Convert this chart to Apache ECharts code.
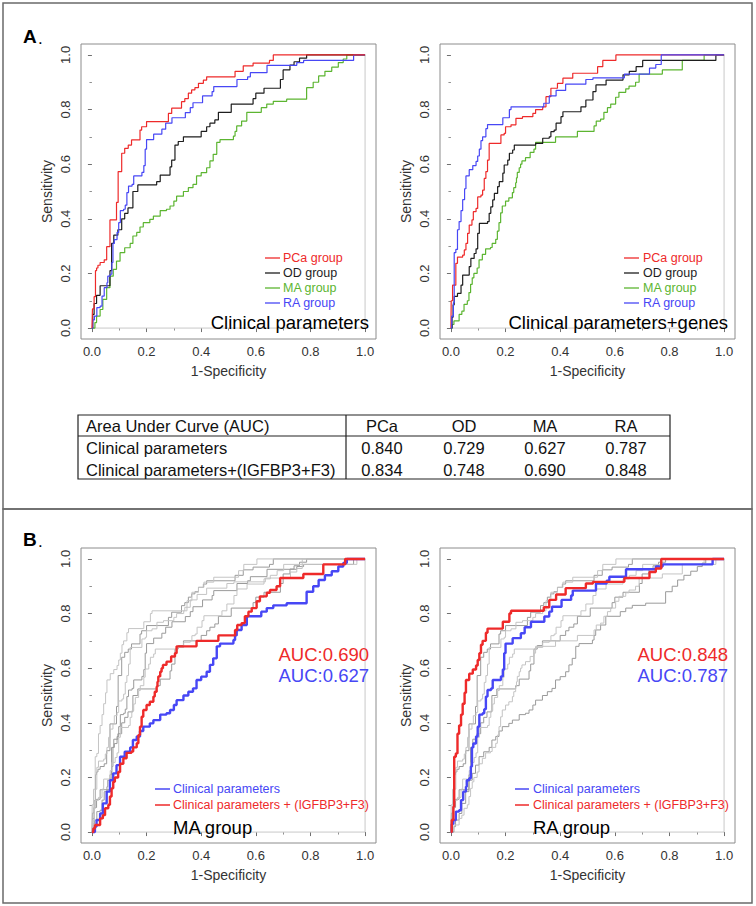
<!DOCTYPE html>
<html>
<head>
<meta charset="utf-8">
<script src="https://cdn.jsdelivr.net/npm/echarts@6/dist/echarts.min.js"></script>
<style>
html,body{margin:0;padding:0;background:#fff;}
#chart{width:756px;height:906px;}
</style>
</head>
<body>
<div id="chart"></div>
<script>
// ---------- DATA (ROC curves as [1-specificity, sensitivity] corner points) ----------
const pcaClin = [[0,0],[0.002,0.07],[0.008,0.115],[0.013,0.21],[0.017,0.22],[0.022,0.23],[0.03,0.24],[0.045,0.25],[0.054,0.298],[0.066,0.396],[0.09,0.46],[0.096,0.573],[0.109,0.64],[0.12,0.658],[0.133,0.67],[0.145,0.689],[0.176,0.725],[0.182,0.737],[0.2,0.756],[0.28,0.786],[0.292,0.805],[0.328,0.829],[0.34,0.84],[0.353,0.86],[0.365,0.872],[0.377,0.88],[0.39,0.896],[0.408,0.908],[0.42,0.92],[0.524,0.94],[0.554,0.96],[0.59,0.97],[0.65,0.98],[0.664,1],[1,1]];
const odClin = [[0,0],[0.003,0.05],[0.008,0.09],[0.017,0.12],[0.03,0.155],[0.066,0.21],[0.072,0.31],[0.08,0.34],[0.095,0.36],[0.109,0.4],[0.12,0.42],[0.132,0.44],[0.15,0.5],[0.168,0.524],[0.237,0.536],[0.25,0.56],[0.286,0.59],[0.292,0.615],[0.304,0.67],[0.316,0.683],[0.335,0.7],[0.4,0.72],[0.42,0.737],[0.432,0.75],[0.45,0.762],[0.463,0.79],[0.51,0.82],[0.59,0.84],[0.6,0.86],[0.63,0.878],[0.69,0.91],[0.7,0.945],[0.725,0.963],[0.74,0.975],[0.76,0.988],[0.786,1],[1,1]];
const maClin = [[0,0],[0.011,0.02],[0.017,0.044],[0.03,0.068],[0.04,0.105],[0.054,0.148],[0.066,0.19],[0.078,0.215],[0.09,0.245],[0.103,0.276],[0.12,0.294],[0.14,0.31],[0.15,0.337],[0.164,0.35],[0.176,0.37],[0.188,0.386],[0.212,0.398],[0.225,0.41],[0.25,0.43],[0.273,0.435],[0.286,0.447],[0.3,0.465],[0.31,0.483],[0.335,0.5],[0.353,0.514],[0.37,0.526],[0.383,0.557],[0.4,0.569],[0.42,0.587],[0.432,0.612],[0.444,0.636],[0.457,0.68],[0.469,0.69],[0.518,0.703],[0.524,0.72],[0.53,0.74],[0.548,0.758],[0.567,0.79],[0.62,0.807],[0.64,0.82],[0.664,0.83],[0.713,0.838],[0.786,0.88],[0.81,0.9],[0.83,0.923],[0.853,0.94],[0.878,0.955],[0.902,0.972],[0.92,0.985],[0.933,1],[1,1]];
const raClin = [[0,0],[0.003,0.03],[0.009,0.044],[0.018,0.075],[0.03,0.08],[0.037,0.117],[0.045,0.148],[0.055,0.166],[0.058,0.19],[0.067,0.197],[0.073,0.24],[0.077,0.31],[0.082,0.324],[0.092,0.35],[0.098,0.386],[0.104,0.43],[0.116,0.435],[0.122,0.45],[0.128,0.496],[0.134,0.52],[0.147,0.526],[0.153,0.557],[0.183,0.57],[0.19,0.595],[0.195,0.655],[0.2,0.69],[0.226,0.71],[0.256,0.728],[0.27,0.75],[0.293,0.77],[0.342,0.789],[0.36,0.807],[0.37,0.825],[0.405,0.85],[0.44,0.866],[0.446,0.884],[0.531,0.91],[0.57,0.92],[0.58,0.935],[0.641,0.962],[0.75,0.972],[0.775,0.98],[0.958,1],[1,1]];
const pcaGene = [[0,0],[0.001,0.1],[0.006,0.157],[0.018,0.237],[0.024,0.26],[0.043,0.267],[0.049,0.286],[0.055,0.31],[0.061,0.347],[0.067,0.377],[0.077,0.396],[0.082,0.426],[0.092,0.438],[0.098,0.48],[0.11,0.487],[0.116,0.505],[0.122,0.548],[0.128,0.573],[0.134,0.615],[0.14,0.676],[0.183,0.707],[0.195,0.713],[0.2,0.737],[0.22,0.744],[0.238,0.768],[0.262,0.774],[0.3,0.786],[0.31,0.8],[0.336,0.81],[0.348,0.847],[0.366,0.878],[0.39,0.896],[0.41,0.915],[0.446,0.933],[0.537,0.957],[0.556,0.98],[0.604,1],[1,1]];
const odGene = [[0,0],[0.004,0.04],[0.008,0.085],[0.012,0.116],[0.024,0.127],[0.037,0.157],[0.043,0.194],[0.067,0.225],[0.073,0.255],[0.085,0.273],[0.092,0.29],[0.098,0.347],[0.104,0.383],[0.134,0.39],[0.14,0.42],[0.146,0.444],[0.153,0.469],[0.159,0.493],[0.171,0.518],[0.177,0.536],[0.19,0.567],[0.195,0.597],[0.208,0.615],[0.214,0.64],[0.226,0.652],[0.232,0.67],[0.31,0.676],[0.336,0.695],[0.36,0.7],[0.366,0.719],[0.378,0.725],[0.385,0.75],[0.403,0.774],[0.41,0.792],[0.476,0.81],[0.494,0.835],[0.52,0.866],[0.531,0.89],[0.568,0.908],[0.63,0.927],[0.653,0.94],[0.678,0.957],[0.702,0.98],[0.97,1],[1,1]];
const maGene = [[0,0],[0.005,0.013],[0.011,0.026],[0.03,0.05],[0.04,0.062],[0.048,0.087],[0.06,0.1],[0.066,0.13],[0.072,0.16],[0.078,0.184],[0.084,0.2],[0.096,0.22],[0.103,0.25],[0.115,0.27],[0.127,0.29],[0.145,0.295],[0.151,0.31],[0.164,0.325],[0.17,0.355],[0.176,0.386],[0.182,0.422],[0.188,0.447],[0.2,0.465],[0.212,0.477],[0.225,0.496],[0.23,0.514],[0.237,0.532],[0.24,0.55],[0.243,0.57],[0.25,0.587],[0.255,0.6],[0.26,0.612],[0.273,0.624],[0.29,0.643],[0.304,0.655],[0.31,0.68],[0.383,0.7],[0.463,0.72],[0.524,0.74],[0.532,0.758],[0.548,0.765],[0.56,0.79],[0.573,0.807],[0.585,0.82],[0.603,0.845],[0.615,0.863],[0.64,0.876],[0.652,0.886],[0.676,0.9],[0.689,0.93],[0.774,0.945],[0.847,0.98],[0.927,1],[1,1]];
const raGene = [[0,0],[0.003,0.044],[0.009,0.093],[0.012,0.276],[0.018,0.288],[0.024,0.36],[0.03,0.39],[0.037,0.43],[0.043,0.47],[0.05,0.51],[0.055,0.557],[0.067,0.58],[0.08,0.595],[0.092,0.61],[0.098,0.63],[0.104,0.655],[0.11,0.686],[0.116,0.7],[0.128,0.73],[0.134,0.745],[0.19,0.77],[0.214,0.8],[0.22,0.81],[0.34,0.823],[0.36,0.85],[0.385,0.87],[0.42,0.893],[0.494,0.91],[0.52,0.916],[0.635,0.93],[0.727,0.952],[0.75,0.965],[0.77,1],[1,1]];
const diagonal = [[0,0],[1,1]];

const groupNames = ['PCa group','OD group','MA group','RA group'];
const tableHeader = ['Area Under Curve (AUC)','PCa','OD','MA','RA'];
const rowLabels = ['Clinical parameters','Clinical parameters+(IGFBP3+F3)'];
const aucClinical = ['0.840','0.729','0.627','0.787'];
const aucGenes = ['0.834','0.748','0.690','0.848'];
const tickValues = [0,0.2,0.4,0.6,0.8,1.0];
const minorTickValues = [0.1,0.3,0.5,0.7,0.9];

// ---------- STYLE ----------
const FONT = '"Liberation Sans", Arial, Helvetica, sans-serif';
const C_RED = '#ee2a2a', C_BLACK = '#1e1e1e', C_GREEN = '#5cb531', C_BLUE = '#4747f5';
const C_GRAY1 = '#9a9a9a', C_GRAY2 = '#c4c4c4';
const grids = [
  {left:81, top:44},
  {left:440, top:44},
  {left:81, top:548},
  {left:440, top:548}
];
const W = 295, H = 295;

const option = {
  animation:false,
  backgroundColor:'#ffffff',
  grid:[], xAxis:[], yAxis:[], series:[], graphic:[]
};

// main grids (0..3) with box, labels and major ticks
grids.forEach((g,i)=>{
  option.grid.push({left:g.left, top:g.top, width:W, height:H, show:true, borderColor:'#8c8c8c', borderWidth:1, backgroundColor:'rgba(0,0,0,0)'});
  const common = {gridIndex:i, type:'value', min:-0.04, max:1.04, splitLine:{show:false}, axisLine:{show:false}};
  option.xAxis.push(Object.assign({}, common, {
    position:'bottom',
    axisTick:{show:true, customValues:tickValues, length:4, lineStyle:{color:'#707070'}},
    axisLabel:{customValues:tickValues, formatter:v=>Number(v).toFixed(1), fontSize:13, color:'#333', fontFamily:FONT, margin:6},
    name:'1-Specificity', nameLocation:'middle', nameGap:25,
    nameTextStyle:{fontSize:14, color:'#333', fontFamily:FONT}
  }));
  option.yAxis.push(Object.assign({}, common, {
    position:'left',
    axisTick:{show:true, customValues:tickValues, length:4, lineStyle:{color:'#707070'}},
    axisLabel:{customValues:tickValues, formatter:v=>Number(v).toFixed(1), rotate:90, fontSize:13, color:'#333', fontFamily:FONT, margin:9},
    name:'Sensitivity', nameLocation:'middle', nameGap:27,
    nameTextStyle:{fontSize:14, color:'#333', fontFamily:FONT}
  }));
});
// overlay grids (4..7) carrying only the short minor ticks
grids.forEach((g,i)=>{
  option.grid.push({left:g.left, top:g.top, width:W, height:H, show:false});
  const common = {gridIndex:4+i, type:'value', min:-0.04, max:1.04, splitLine:{show:false}, axisLine:{show:false}, axisLabel:{show:false}};
  option.xAxis.push(Object.assign({}, common, {position:'bottom', axisTick:{show:true, customValues:minorTickValues, length:2.5, lineStyle:{color:'#909090'}}}));
  option.yAxis.push(Object.assign({}, common, {position:'left', axisTick:{show:true, customValues:minorTickValues, length:2.5, lineStyle:{color:'#909090'}}}));
});

function addLine(gi, data, color, width, z){
  option.series.push({
    type:'line', xAxisIndex:gi, yAxisIndex:gi, data:data, step:'end',
    symbol:'none', silent:true, z:z||2,
    lineStyle:{color:color, width:width}
  });
}
// diagonals
for (let i=0;i<4;i++) addLine(i, diagonal, '#c8c8c8', 1, 1);

// Panel A left: clinical parameters
addLine(0, maClin, C_GREEN, 1.2, 3);
addLine(0, odClin, C_BLACK, 1.2, 3);
addLine(0, raClin, C_BLUE, 1.2, 3);
addLine(0, pcaClin, C_RED, 1.2, 3);
// Panel A right: clinical parameters + genes
addLine(1, maGene, C_GREEN, 1.2, 3);
addLine(1, odGene, C_BLACK, 1.2, 3);
addLine(1, pcaGene, C_RED, 1.2, 3);
addLine(1, raGene, C_BLUE, 1.2, 3);
// Panel B left: MA group highlighted
[pcaClin, odClin, raClin].forEach(d=>addLine(2, d, C_GRAY1, 1, 2));
[pcaGene, odGene, raGene].forEach(d=>addLine(2, d, C_GRAY2, 1, 2));
addLine(2, maClin, C_BLUE, 2.4, 4);
addLine(2, maGene, C_RED, 2.4, 5);
// Panel B right: RA group highlighted
[pcaClin, odClin, maClin].forEach(d=>addLine(3, d, C_GRAY1, 1, 2));
[pcaGene, odGene, maGene].forEach(d=>addLine(3, d, C_GRAY2, 1, 2));
addLine(3, raClin, C_BLUE, 2.4, 4);
addLine(3, raGene, C_RED, 2.4, 5);

// ---------- GRAPHIC: frames, labels, legends, table ----------
const G = option.graphic;
function txt(x, y, text, size, color, align, weight){
  G.push({type:'text', x:x, y:y, silent:true, z:10, style:{text:text, fill:color||'#000', font:(weight||'normal')+' '+size+'px '+FONT, fontSize:size, fontFamily:FONT, fontWeight:weight||'normal', align:align||'left', textAlign:align||'left', verticalAlign:'middle', textVerticalAlign:'middle'}});
}
function ln(x1,y1,x2,y2,color,w){
  G.push({type:'line', silent:true, z:10, shape:{x1:x1,y1:y1,x2:x2,y2:y2}, style:{stroke:color, lineWidth:w}});
}
// panel frames
G.push({type:'rect', silent:true, z:0, shape:{x:3,y:3,width:749,height:506}, style:{fill:'none', stroke:'#6a6a6a', lineWidth:1.5}});
G.push({type:'rect', silent:true, z:0, shape:{x:3,y:509,width:749,height:394}, style:{fill:'none', stroke:'#6a6a6a', lineWidth:1.5}});
// panel letters
txt(23, 36, 'A', 19, '#000', 'left', 'bold'); txt(38, 38, '.', 17, '#000', 'left');
txt(23, 539, 'B', 19, '#000', 'left', 'bold'); txt(38, 541, '.', 17, '#000', 'left');

// legends panel A
const legColors = [C_RED, C_BLACK, C_GREEN, C_BLUE];
const legRows = [258, 273, 288, 303];
[[265,280,283],[624,639,643]].forEach(p=>{
  groupNames.forEach((n,k)=>{
    ln(p[0], legRows[k], p[1], legRows[k], legColors[k], 1.3);
    txt(p[2], legRows[k], n, 12.5, legColors[k], 'left');
  });
});
txt(369, 322, 'Clinical parameters', 18.5, '#000', 'right');
txt(728, 322, 'Clinical parameters+genes', 18.5, '#000', 'right');

// table
G.push({type:'rect', silent:true, z:10, shape:{x:78,y:415,width:592,height:64}, style:{fill:'none', stroke:'#222', lineWidth:1.2}});
ln(78, 436, 670, 436, '#222', 1.2);
ln(346, 415, 346, 479, '#222', 1.2);
const colX = [382, 464, 545, 626];
txt(86, 426, tableHeader[0], 16.5, '#111', 'left');
txt(86, 448, rowLabels[0], 16.5, '#111', 'left');
txt(86, 470, rowLabels[1], 16.5, '#111', 'left');
for (let c=0;c<4;c++){
  txt(colX[c], 426, tableHeader[c+1], 16.5, '#111', 'center');
  txt(colX[c], 448, aucClinical[c], 16.5, '#111', 'center');
  txt(colX[c], 470, aucGenes[c], 16.5, '#111', 'center');
}

// panel B legends and labels
[[155,170,173,369,'MA group',2],[515,529,533,728,'RA group',3]].forEach(p=>{
  ln(p[0], 789, p[1], 789, C_BLUE, 1.5);
  txt(p[2], 789, 'Clinical parameters', 12.5, C_BLUE, 'left');
  ln(p[0], 805, p[1], 805, C_RED, 1.5);
  txt(p[2], 805, 'Clinical parameters + (IGFBP3+F3)', 12.5, C_RED, 'left');
  txt(p[2], 827, p[4], 18.5, '#000', 'left');
  txt(p[3], 654, 'AUC:' + aucGenes[p[5]], 18.5, C_RED, 'right');
  txt(p[3], 675, 'AUC:' + aucClinical[p[5]], 18.5, C_BLUE, 'right');
});

const chart = echarts.init(document.getElementById('chart'), null, {renderer:'svg', width:756, height:906, devicePixelRatio:1});
chart.setOption(option);
</script>
</body>
</html>
